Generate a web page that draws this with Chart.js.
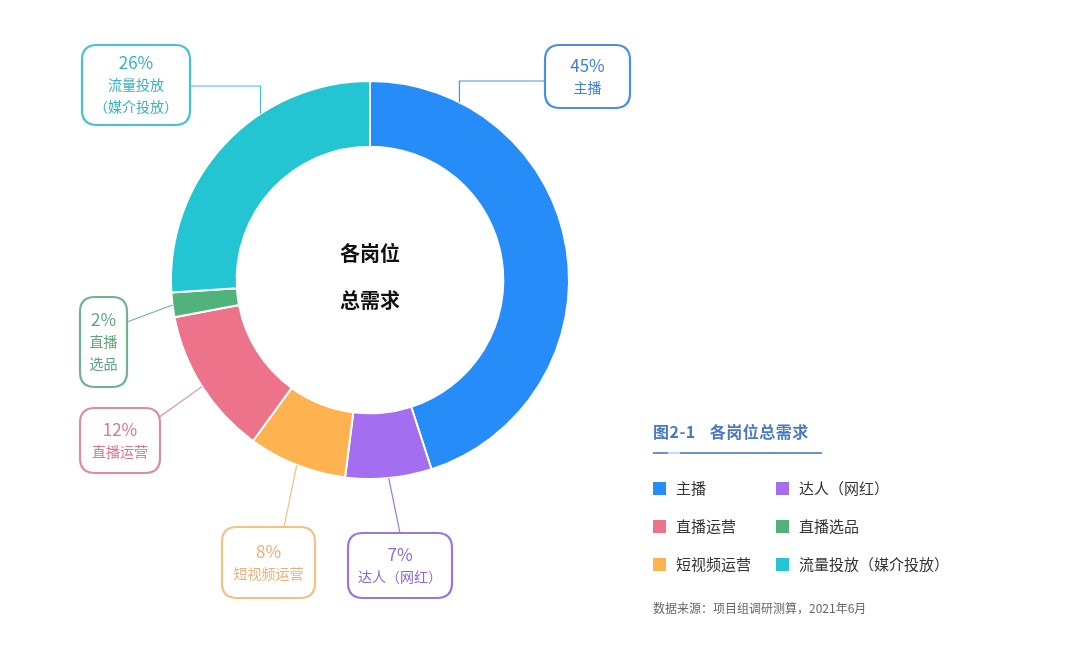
<!DOCTYPE html>
<html lang="zh">
<head>
<meta charset="utf-8">
<script src="https://cdn.jsdelivr.net/npm/chart.js@4/dist/chart.umd.min.js"></script>
<style>
    html, body {
        margin: 0;
        padding: 0;
        background: #ffffff;
        font-family: "Noto Sans CJK SC", "Noto Sans", sans-serif;
    }
    .wrap {
        position: relative;
        width: 1080px;
        height: 668px;
        overflow: hidden;
    }
    #myChart {
        position: absolute;
        left: 0;
        top: 0;
    }
    .legend {
        position: absolute;
        left: 653px;
        top: 419px;
        width: 330px;
    }
    .legend .title {
        color: #4a78c4;
        font-size: 16px;
        font-weight: bold;
        letter-spacing: 0.5px;
    }
    .legend .title span {
        margin-left: 14px;
    }
    .legend .rule {
        position: relative;
        width: 169px;
        height: 2px;
        margin-top: 9px;
        background: #6b8fd0;
    }
    .legend .rule i {
        position: absolute;
        left: 15px;
        top: 0;
        width: 12px;
        height: 2px;
        background: #bfe4ee;
    }
    .legend .grid {
        display: grid;
        grid-template-columns: 123px 190px;
        row-gap: 16px;
        margin-top: 23px;
    }
    .legend .item {
        font-size: 15px;
        color: #333333;
        line-height: 22px;
        white-space: nowrap;
    }
    .legend .item b {
        display: inline-block;
        width: 13px;
        height: 13px;
        margin-right: 10px;
        vertical-align: -1px;
    }
    .legend .source {
        margin-top: 24px;
        font-size: 12px;
        color: #666666;
    }
</style>
</head>
<body>
<div class="wrap">
    <canvas id="myChart" width="1080" height="668"></canvas>
    <div class="legend">
        <div class="title">图2-1<span>各岗位总需求</span></div>
        <div class="rule"><i></i></div>
        <div class="grid" id="legendGrid"></div>
        <div class="source">数据来源：项目组调研测算，2021年6月</div>
    </div>
</div>
<script>
// data
const categories = ["主播", "达人（网红）", "短视频运营", "直播运营", "直播选品", "流量投放（媒介投放）"];
const shares = [45, 7, 8, 12, 2, 26];
const calloutLines = [["45%", "主播"], ["7%", "达人（网红）"], ["8%", "短视频运营"], ["12%", "直播运营"], ["2%", "直播", "选品"], ["26%", "流量投放", "（媒介投放）"]];
const centerLines = ["各岗位", "总需求"];

// styles
const colors = ["#268cf8", "#a46ef0", "#ffb350", "#ec7389", "#52b27d", "#22c5d1"];
const boxColors = ["#4a8fe0", "#9a76e2", "#f5c083", "#e08ba0", "#6fb48c", "#43c3cc"];
const textColors = ["#3d7fd6", "#8d69d6", "#eab07a", "#d8788f", "#5ea77d", "#2fb6c0"];

// callout layout: box [x, y, w, h], anchor angle on ring (deg clockwise from top, null = slice middle),
// and the point where the leader line leaves the box, plus optional elbow
const calloutLayout = [
    { box: [545, 45, 85, 63], angle: 26.7, start: [545, 81], elbow: "h" },
    { box: [348, 533, 104, 65], angle: null, start: [400, 533] },
    { box: [222, 527, 93, 71], angle: null, start: [284, 527] },
    { box: [80, 408, 80, 65], angle: null, start: [158, 418] },
    { box: [80, 297, 47, 90], angle: null, start: [127, 322] },
    { box: [82, 45, 108, 80], angle: -33.4, start: [190, 86], elbow: "h" }
];

// html legend, two columns in the same order as the reference
const legendOrder = [0, 1, 3, 4, 2, 5];
const grid = document.getElementById("legendGrid");
legendOrder.forEach(function (i) {
    const item = document.createElement("div");
    item.className = "item";
    item.innerHTML = '<b style="background:' + colors[i] + '"></b>' + categories[i];
    grid.appendChild(item);
});

function roundRect(ctx, x, y, w, h, r) {
    ctx.beginPath();
    ctx.moveTo(x + r, y);
    ctx.lineTo(x + w - r, y);
    ctx.quadraticCurveTo(x + w, y, x + w, y + r);
    ctx.lineTo(x + w, y + h - r);
    ctx.quadraticCurveTo(x + w, y + h, x + w - r, y + h);
    ctx.lineTo(x + r, y + h);
    ctx.quadraticCurveTo(x, y + h, x, y + h - r);
    ctx.lineTo(x, y + r);
    ctx.quadraticCurveTo(x, y, x + r, y);
    ctx.closePath();
}

const calloutPlugin = {
    id: "callouts",
    afterDatasetsDraw(chart) {
        const ctx = chart.ctx;
        const arcs = chart.getDatasetMeta(0).data;
        ctx.save();

        arcs.forEach(function (arc, i) {
            const lay = calloutLayout[i];
            const p = arc.getProps(["x", "y", "startAngle", "endAngle", "outerRadius"], true);
            let a;
            if (lay.angle === null) {
                a = (p.startAngle + p.endAngle) / 2;
            } else {
                a = lay.angle * Math.PI / 180 - Math.PI / 2;
            }
            const ax = p.x + Math.cos(a) * p.outerRadius;
            const ay = p.y + Math.sin(a) * p.outerRadius;

            // leader line
            ctx.strokeStyle = boxColors[i];
            ctx.lineWidth = 1.2;
            ctx.beginPath();
            ctx.moveTo(lay.start[0], lay.start[1]);
            if (lay.elbow === "h") {
                ctx.lineTo(ax, lay.start[1]);
            }
            ctx.lineTo(ax, ay);
            ctx.stroke();

            // box
            const b = lay.box;
            roundRect(ctx, b[0], b[1], b[2], b[3], 15);
            ctx.fillStyle = "#ffffff";
            ctx.fill();
            ctx.lineWidth = 2.2;
            ctx.strokeStyle = boxColors[i];
            ctx.stroke();

            // text
            const lines = calloutLines[i];
            const lh = lines.length > 2 ? 22 : 22;
            const cx = b[0] + b[2] / 2;
            const cy = b[1] + b[3] / 2;
            ctx.fillStyle = textColors[i];
            ctx.textAlign = "center";
            ctx.textBaseline = "middle";
            lines.forEach(function (t, k) {
                ctx.font = (k === 0 ? "17px" : "14px") + ' "Noto Sans CJK SC", sans-serif';
                ctx.fillText(t, cx, cy + (k - (lines.length - 1) / 2) * lh);
            });
        });

        // center text
        const c = arcs[0].getProps(["x", "y"], true);
        ctx.fillStyle = "#111111";
        ctx.font = 'bold 20px "Noto Sans CJK SC", sans-serif';
        ctx.textAlign = "center";
        ctx.textBaseline = "middle";
        ctx.fillText(centerLines[0], c.x, c.y - 27);
        ctx.fillText(centerLines[1], c.x, c.y + 20);
        ctx.restore();
    }
};

const ctx = document.getElementById("myChart").getContext("2d");
const myChart = new Chart(ctx, {
    type: "doughnut",
    data: {
        labels: categories,
        datasets: [{
            data: shares,
            backgroundColor: colors,
            borderColor: "#ffffff",
            borderWidth: 2,
            hoverOffset: 0
        }]
    },
    options: {
        responsive: false,
        animation: false,
        cutout: "67%",
        layout: {
            padding: { left: 170, top: 80, right: 510, bottom: 188 }
        },
        plugins: {
            legend: { display: false },
            tooltip: { enabled: false }
        }
    },
    plugins: [calloutPlugin]
});
</script>
</body>
</html>
